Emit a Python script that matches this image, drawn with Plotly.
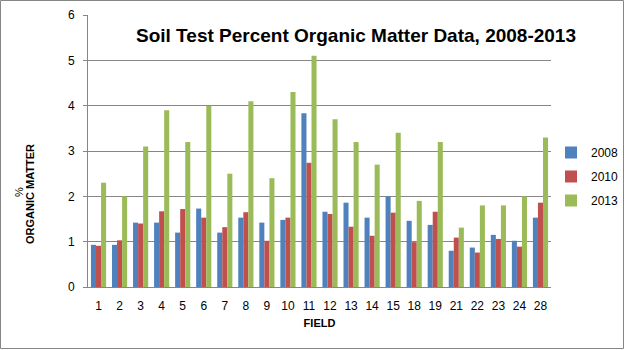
import plotly.graph_objects as go

fields = ["1", "2", "3", "4", "5", "6", "7", "8", "9", "10", "11", "12", "13", "14",
          "15", "18", "19", "21", "22", "23", "24", "28"]
om_2008 = [0.93, 0.93, 1.42, 1.42, 1.20, 1.73, 1.20, 1.53, 1.42, 1.48, 3.83, 1.66, 1.86, 1.53,
           2.00, 1.46, 1.37, 0.80, 0.87, 1.15, 1.02, 1.53]
om_2010 = [0.91, 1.03, 1.40, 1.67, 1.72, 1.53, 1.32, 1.65, 1.02, 1.53, 2.74, 1.61, 1.33, 1.13,
           1.64, 0.99, 1.66, 1.09, 0.76, 1.06, 0.89, 1.86]
om_2013 = [2.3, 2.0, 3.1, 3.9, 3.2, 4.0, 2.5, 4.1, 2.4, 4.3, 5.1, 3.7, 3.2, 2.7,
           3.4, 1.9, 3.2, 1.31, 1.8, 1.8, 2.0, 3.3]

W, H = 625, 350
L, R, T, B = 88, 74, 15, 63
pw, ph = W - L - R, H - T - B

fig = go.Figure()
for name, vals, col in [("2008", om_2008, "#4F81BD"), ("2010", om_2010, "#C0504D"),
                        ("2013", om_2013, "#9BBB59")]:
    fig.add_trace(go.Bar(x=fields, y=vals, name=name, legendgroup=name,
                         marker=dict(color=col, line=dict(width=0))))

font_main = "Liberation Sans, Arial, sans-serif"
fig.update_layout(
    width=W, height=H,
    margin=dict(l=L, r=R, t=T, b=B, autoexpand=False),
    paper_bgcolor="white", plot_bgcolor="white",
    barmode="group", bargap=0.28, bargroupgap=0,
    font=dict(family=font_main, size=12, color="#000"),
    title=dict(text="<b>Soil Test Percent Organic Matter Data, 2008-2013</b>",
               x=356 / W, xanchor="center", y=1 - 35 / H, yanchor="middle",
               font=dict(size=19, color="#000", family=font_main)),
    showlegend=True,
    legend=dict(xref="container", yref="container", x=551 / W, xanchor="left",
                y=1 - 138 / H, yanchor="top", tracegroupgap=5, itemwidth=30,
                font=dict(size=12, color="#000"), bgcolor="rgba(0,0,0,0)",
                traceorder="grouped"),
    xaxis=dict(type="category", showgrid=False, showline=True, linecolor="#868686",
               linewidth=1, ticks="", tickfont=dict(size=12), ticklabelstandoff=8,
               title=dict(text="<b>FIELD</b>", font=dict(size=11), standoff=6)),
    yaxis=dict(range=[0, 6], dtick=1, showgrid=True, gridcolor="#868686", gridwidth=1,
               showline=True, linecolor="#868686", linewidth=1, ticks="outside",
               ticklen=4, tickcolor="#868686", tickfont=dict(size=12),
               ticklabelstandoff=6, zeroline=False),
)

# y-axis title (placed lower than plot centre, as in the original)
fig.add_annotation(text="%", xref="paper", yref="paper",
                   x=-(L - 19) / pw, y=(287 - 192) / ph, textangle=-90,
                   showarrow=False, font=dict(size=11, color="#000"),
                   xanchor="center", yanchor="middle")
fig.add_annotation(text="<b>ORGANIC MATTER</b>", xref="paper", yref="paper",
                   x=-(L - 30) / pw, y=(287 - 194) / ph, textangle=-90,
                   showarrow=False, font=dict(size=11, color="#000"),
                   xanchor="center", yanchor="middle")

# outer chart border
fig.add_shape(type="rect", xref="paper", yref="paper",
              x0=-(L - 0.5) / pw, x1=1 + (R - 1.5) / pw,
              y0=-(B - 1.5) / ph, y1=1 + (T - 0.5) / ph,
              line=dict(color="#868686", width=1), fillcolor="rgba(0,0,0,0)", layer="below")

fig.write_html("out.html")
